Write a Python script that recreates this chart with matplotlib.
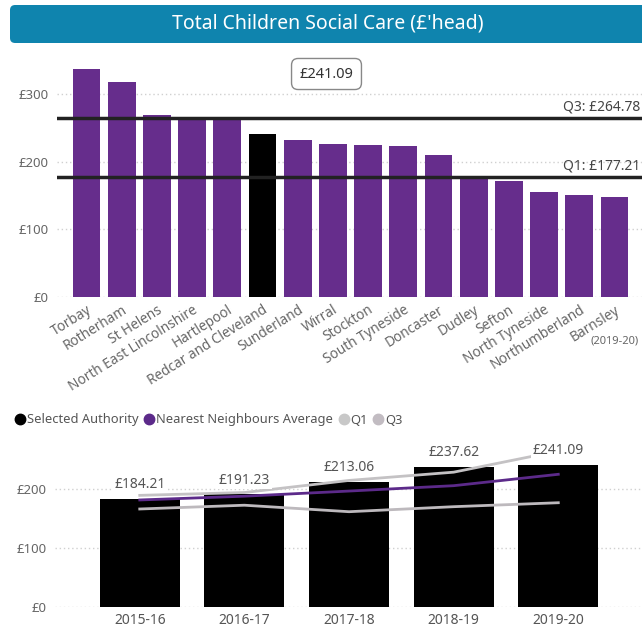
import matplotlib
matplotlib.use("Agg")
import matplotlib.pyplot as plt
from matplotlib.patches import FancyBboxPatch
from matplotlib.lines import Line2D

plt.rcParams['font.family'] = ['Noto Sans', 'DejaVu Sans']

# Nearest-neighbour comparison, 2019-20 (£ per head)
authorities = ["Torbay", "Rotherham", "St Helens", "North East Lincolnshire",
               "Hartlepool", "Redcar and Cleveland", "Sunderland", "Wirral",
               "Stockton", "South Tyneside", "Doncaster", "Dudley", "Sefton",
               "North Tyneside", "Northumberland", "Barnsley"]
spend_2019 = [336, 317, 269, 266, 266, 241.09, 232.5, 226, 225, 223,
              210, 178, 172, 154.5, 150.5, 148]
selected = "Redcar and Cleveland"
q1_value = 177.21
q3_value = 264.78

# Trend for the selected authority
years = ["2015-16", "2016-17", "2017-18", "2018-19", "2019-20"]
selected_trend = [184.21, 191.23, 213.06, 237.62, 241.09]
nn_average = [181.9, 188.3, 197.0, 206.1, 225.4]
q1_trend = [166.6, 173.0, 162.0, 170.5, 177.21]
q3_trend = [189.7, 194.5, 215.0, 229.0, 264.78]

PURPLE = "#662D8C"
BANNER = "#0F84AE"
TICK = "#666666"
GRID = "#d0d0d0"

fig = plt.figure(figsize=(6.42, 6.28), dpi=100)

# Title banner
banner = FancyBboxPatch((10 / 642, 1 - 43 / 628), 700 / 642, 38 / 628,
                        boxstyle="round,pad=0,rounding_size=0.008",
                        transform=fig.transFigure, facecolor=BANNER,
                        edgecolor="none")
fig.patches.append(banner)
fig.text(328 / 642, 1 - 24 / 628, "Total Children Social Care (£'head)",
         color="white", fontsize=14, ha="center", va="center")

# ---- Top: comparison bar chart ----
ax1 = fig.add_axes([57 / 642, 1 - 297 / 628, 1 - 57 / 642, 237 / 628])
xs = list(range(len(authorities)))
colors = ["black" if a == selected else PURPLE for a in authorities]
ax1.bar(xs, spend_2019, width=0.79, color=colors, zorder=2)
ax1.set_xlim(-0.84, 15.78)
ax1.set_ylim(0, 350)
ax1.set_yticks([0, 100, 200, 300])
ax1.set_yticklabels([f"£{v}" for v in [0, 100, 200, 300]])
ax1.yaxis.grid(True, linestyle=(0, (1, 2)), color=GRID, linewidth=1, zorder=0)
for sp in ax1.spines.values():
    sp.set_visible(False)
ax1.tick_params(axis="both", length=0, colors=TICK, labelsize=9.5)
ax1.tick_params(axis="y", pad=6)
ax1.set_xticks(xs)
ax1.set_xticklabels(authorities, rotation=32, ha="right",
                    rotation_mode="anchor", fontsize=9.8, color=TICK)
ax1.tick_params(axis="x", pad=4)

for val, name in [(q3_value, "Q3"), (q1_value, "Q1")]:
    ax1.axhline(val, color="#222222", linewidth=2.5, zorder=3)
    ax1.text(0.997, val + 5, f"{name}: £{val:.2f}", transform=ax1.get_yaxis_transform(),
             ha="right", va="bottom", fontsize=10, color="#444444")

sel_val = spend_2019[authorities.index(selected)]
fig.text(326.5 / 642, 1 - 74 / 628, f"£{sel_val:.2f}", ha="center", va="center",
         fontsize=10.5, color="#333333",
         bbox=dict(boxstyle="round,pad=0.55,rounding_size=0.45",
                   facecolor="white", edgecolor="#888888", linewidth=1))
fig.text(615 / 642, 1 - 341 / 628, "(2019-20)", ha="center", va="center",
         fontsize=8, color=TICK)

# ---- Bottom: trend chart ----
ax2 = fig.add_axes([55 / 642, 1 - 607.3 / 628, 1 - 55 / 642, 154.6 / 628])
yx = list(range(len(years)))
ax2.bar(yx, selected_trend, width=0.766, color="black", zorder=2)
ax2.plot(yx, q1_trend, color="#bdb9bd", linewidth=2, zorder=3, clip_on=False)
ax2.plot(yx, q3_trend, color="#c4c2c4", linewidth=2, zorder=3, clip_on=False)
ax2.plot(yx, nn_average, color="#5C2A8A", linewidth=2, zorder=4, clip_on=False)
ax2.set_xlim(-0.81, 4.8)
ax2.set_ylim(0, 262)
ax2.set_yticks([0, 100, 200])
ax2.set_yticklabels([f"£{v}" for v in [0, 100, 200]])
ax2.yaxis.grid(True, linestyle=(0, (1, 2)), color=GRID, linewidth=1, zorder=0)
for sp in ax2.spines.values():
    sp.set_visible(False)
ax2.tick_params(axis="both", length=0, colors=TICK, labelsize=9.5)
ax2.tick_params(axis="y", pad=6)
ax2.set_xticks(yx)
ax2.set_xticklabels(years, fontsize=10, color="#555555")
ax2.tick_params(axis="x", pad=4)

for x, v in zip(yx, selected_trend):
    ax2.text(x, v + 24.5, f"£{v:.2f}", ha="center", va="center",
             fontsize=10, color="#555555", zorder=6,
             bbox=dict(boxstyle="square,pad=0.12", facecolor="white",
                       edgecolor="none"), clip_on=False)

handles = [Line2D([], [], marker="o", linestyle="none", markersize=7.5, color=c)
           for c in ["black", "#5C2A8A", "#c8c8c8", "#c2bcc2"]]
fig.legend(handles, ["Selected Authority", "Nearest Neighbours Average", "Q1", "Q3"],
           loc="center left", bbox_to_anchor=(15 / 642, 1 - 420 / 628),
           ncol=4, frameon=False, fontsize=9.3, handletextpad=0.1,
           columnspacing=0.45, handlelength=0.8, labelcolor="#555555",
           borderaxespad=0, borderpad=0)

fig.savefig("out.png", dpi=100)
